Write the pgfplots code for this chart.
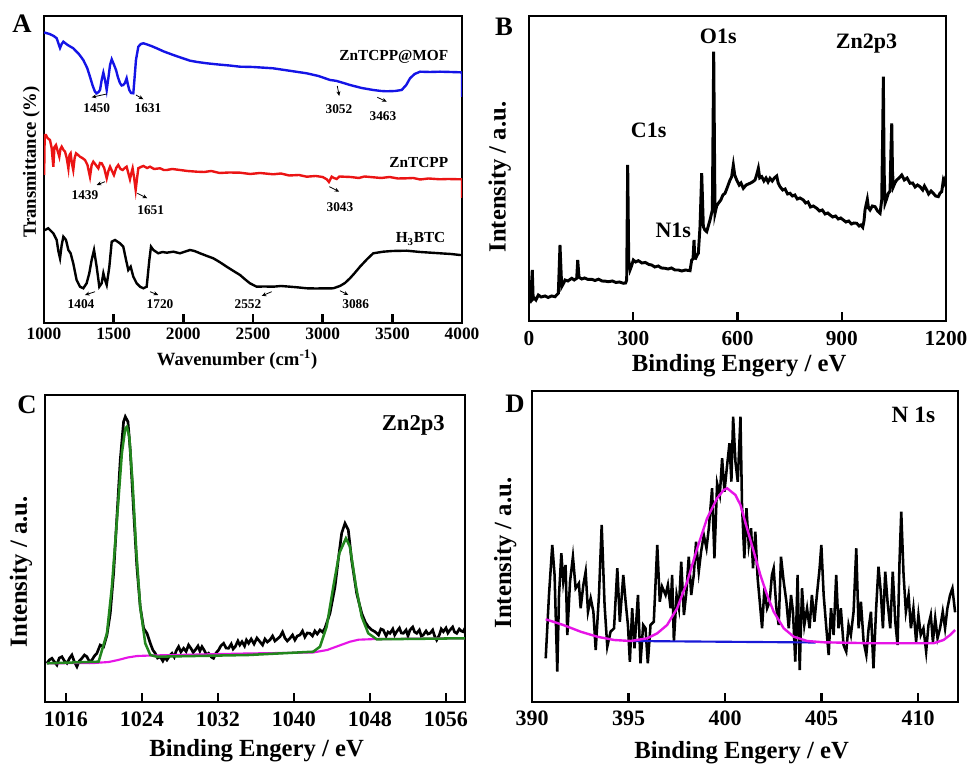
\documentclass[border=0pt]{standalone}
\usepackage{fontspec}
\setmainfont{Liberation Serif}
\usepackage{pgfplots}
\pgfplotsset{compat=1.18}
\usetikzlibrary{arrows.meta,calc}
\definecolor{ftblue}{RGB}{20,20,230}
\definecolor{ftred}{RGB}{235,20,20}
\definecolor{fitgreen}{RGB}{35,135,30}
\definecolor{fitmag}{RGB}{230,20,230}
\definecolor{basblue}{RGB}{25,25,215}
\newcommand{\fs}[1]{\fontsize{#1}{#1}\selectfont\bfseries}
\tikzset{ann/.style={-{Stealth[length=3.5pt,width=3pt]}, line width=0.6pt, black},
  tk/.style={black, line width=1.8pt}}
\pgfplotsset{
  panel/.style={scale only axis, anchor=south west, clip=true,
    axis line style={line width=2pt}, ytick=\empty,
    tick align=inside, xtick pos=left, major tick length=6pt,
    /pgf/number format/assume math mode=true, /pgf/number format/1000 sep={},
    ymin=0, enlargelimits=false},
}
\begin{document}
\begin{tikzpicture}[font=\bfseries]
\path[use as bounding box] (0,0) rectangle (729pt,575.25pt);

% ---------- A: FTIR ----------
\begin{axis}[panel, name=pA, at={(33pt,333pt)}, width=313.5pt, height=230.25pt,
  xmin=1000, xmax=4000, ymax=307, xtick={1000,1500,...,4000},
  tick label style={font=\fs{13}}, label style={font=\fs{14}},
  xlabel={Wavenumber (cm\textsuperscript{-1})}, ylabel={Transmittance (\%)},
  xlabel style={at={(axis description cs:0.462,-0.12)}, anchor=center},
  ylabel style={at={(axis description cs:-0.03,0.524)}, anchor=center}]
\addplot[ftblue, line width=1.8pt] coordinates {
(1000,290) (1007,290.3) (1040,289) (1070,287) (1091,284.7) (1105,279) (1115,275) (1127,279) (1139,281.3) (1170,278) (1210,274.7) (1250,269) (1282,263) (1310,255) (1330,246.3) (1350,237) (1366,231.3) (1378,229.7) (1392,231) (1402,233) (1414,243) (1426,250.3) (1438,243) (1450,233) (1462,245) (1474,258) (1486,263.7) (1500,259) (1517,253) (1530,246) (1545,240) (1557,237.5) (1569,238) (1581,240) (1593,244.7) (1603,238) (1612,233) (1625,230) (1641,229.7) (1650,245) (1660,263) (1677,276.3) (1695,279) (1713,279.7) (1740,278.5) (1770,277) (1809,274.7) (1860,271.5) (1928,268) (1990,265) (2048,262.3) (2100,261) (2168,259.7) (2250,258.5) (2330,257.5) (2407,256.3) (2500,256) (2644,254.7) (2750,252.5) (2885,249.7) (2970,247) (3053,243) (3080,242.5) (3101,242) (3150,240) (3196,238) (3280,235) (3363,233) (3420,232) (3460,231.7) (3520,232) (3567,233) (3600,238) (3627,244.7) (3660,249) (3699,251.3) (3770,251) (3842,251.3) (3920,251) (3986,250.7) (4000,250.5) (4000,226)};
\addplot[ftred, line width=1.8pt] coordinates {
(1001,148) (1005,188) (1014,188) (1025,185) (1043,183) (1055,175) (1067,156.3) (1075,176) (1086,178) (1098,172) (1110,166.3) (1118,174) (1127,176.3) (1140,173) (1151,171.3) (1163,165) (1175,154.7) (1183,168) (1191,169.7) (1200,160) (1210,153) (1220,165) (1230,169.7) (1245,168) (1258,166.3) (1275,165) (1294,163) (1312,158) (1330,146.3) (1342,158) (1354,161.3) (1372,158) (1390,154.7) (1402,160) (1414,159.7) (1432,155) (1450,144.7) (1462,152) (1474,156.3) (1488,152) (1502,148) (1518,155) (1533,158) (1549,154) (1565,153) (1580,155) (1593,156.3) (1605,150) (1617,143.7) (1627,150) (1636,154.7) (1647,145) (1658,133) (1668,145) (1677,154.7) (1695,156) (1713,157) (1740,155) (1761,156.3) (1790,154) (1833,154.7) (1860,153) (1881,153) (1920,154) (1976,153) (2030,152) (2096,151.3) (2150,151) (2200,152) (2260,150) (2330,150.5) (2407,150.3) (2480,149) (2550,150) (2646,148.7) (2700,149.5) (2760,147.5) (2830,148) (2885,146.3) (2950,147) (3000,146) (3029,143.7) (3045,141) (3065,146.3) (3080,145) (3101,144) (3120,146.5) (3148,146.3) (3200,146) (3260,145) (3300,146.5) (3363,145.7) (3420,145) (3480,146) (3540,144.5) (3603,144.7) (3650,145) (3700,143.5) (3760,144.5) (3842,143.7) (3900,144) (3986,143.7) (4000,143.7) (4000,125)};
\addplot[black, line width=1.8pt] coordinates {
(1000,93) (1007,93) (1031,94.7) (1050,92) (1067,89.7) (1091,83) (1103,72) (1115,64.7) (1127,78) (1139,86.3) (1158,83) (1175,73) (1191,69.7) (1210,59.7) (1234,43) (1258,36.3) (1282,34.7) (1306,39.7) (1325,49.7) (1342,63) (1359,73) (1378,56.3) (1397,36.3) (1414,39.7) (1426,49.7) (1438,43) (1450,38) (1469,56.3) (1486,81.3) (1510,83) (1545,79.7) (1569,76.3) (1589,63) (1605,53) (1622,56.3) (1641,46.3) (1665,39.7) (1689,36.3) (1713,34.7) (1737,36.3) (1756,63) (1768,76.3) (1785,73) (1820,69.7) (1850,71) (1881,70.3) (1928,71.3) (1976,69.7) (2048,73) (2080,72) (2120,69.7) (2170,67) (2215,64.7) (2260,61) (2311,56.3) (2360,52) (2407,48) (2440,44) (2478,39.7) (2526,36.3) (2580,36.5) (2646,36.3) (2700,37) (2766,36.3) (2830,35.5) (2885,34.7) (2950,34.5) (3000,34.6) (3076,34.7) (3124,37) (3160,40) (3196,44.7) (3230,50) (3268,56.3) (3320,64) (3363,69.7) (3435,71.3) (3500,72) (3603,72.3) (3700,71) (3842,69.7) (3920,69) (3986,68) (4000,68)};
\node[font=\fs{11.5}, anchor=east] at (axis cs:3935,266) {ZnTCPP@MOF};
\node[font=\fs{11.5}, anchor=east] at (axis cs:3935,160) {ZnTCPP};
\node[font=\fs{11.5}, anchor=east] at (axis cs:3914,84) {H\textsubscript{3}BTC};
\begin{scope}[font=\fs{10}]
\node at (axis cs:1378,214.7) {1450};
\node at (axis cs:1746,214.7) {1631};
\node at (axis cs:3117,214) {3052};
\node at (axis cs:3433,207) {3463};
\node at (axis cs:1294,128) {1439};
\node at (axis cs:1766,113) {1651};
\node at (axis cs:3124,116) {3043};
\node at (axis cs:1266,19) {1404};
\node at (axis cs:1833,19) {1720};
\node at (axis cs:2464,19) {2552};
\node at (axis cs:3237,19) {3086};
\end{scope}
\draw[ann] (axis cs:1450,229) -- (axis cs:1342,225.7);
\draw[ann] (axis cs:1660,228) -- (axis cs:1713,223.7);
\draw[ann] (axis cs:3105,237) -- (axis cs:3119,227);
\draw[ann] (axis cs:3392,225.7) -- (axis cs:3460,221.3);
\draw[ann] (axis cs:1438,141.3) -- (axis cs:1378,138);
\draw[ann] (axis cs:1670,129.7) -- (axis cs:1741,124.7);
\draw[ann] (axis cs:3048,136.3) -- (axis cs:3119,131.3);
\draw[ann] (axis cs:1366,31.3) -- (axis cs:1294,28);
\draw[ann] (axis cs:1761,31.3) -- (axis cs:1820,28);
\draw[ann] (axis cs:2634,31.3) -- (axis cs:2562,27);
\draw[ann] (axis cs:3124,32.3) -- (axis cs:3184,28);
\end{axis}

% ---------- B: XPS survey ----------
\begin{axis}[panel, name=pB, at={(396.75pt,334.5pt)}, width=312.75pt, height=228.75pt,
  xmin=0, xmax=1200, ymax=305, xtick={0,300,...,1200},
  tick label style={font=\fs{16}}, xticklabel style={yshift=-4pt}, label style={font=\fs{18.5}},
  xlabel={Binding Engery / eV}, ylabel={Intensity / a.u.},
  xlabel style={at={(axis description cs:0.504,-0.148)}, anchor=center},
  ylabel style={at={(axis description cs:-0.07,0.472)}, anchor=center}]
\addplot[black, line width=2.2pt] coordinates {
(2.9,17.7) (6,30) (9.5,51) (12,22) (15,23) (20,21) (26.8,26) (35,24) (46,25) (55,23.5) (65,25) (74.8,24.3) (84.4,27.7) (89.2,76) (94.1,34.3) (100,38) (103.6,41) (112,40) (122.9,42.7) (130,41) (137.3,42.7) (140.2,61) (143.9,43.7) (152,42) (160,43) (170,41.5) (180.4,41.7) (190,40.5) (200,41.8) (210,40) (220,39.8) (228.3,39.3) (240,40) (250,38.5) (260,39) (271.4,37.7) (278,38) (281.1,41) (284,156) (287,60) (290.7,51) (295,55) (300.3,61) (307,59) (314.6,60.3) (325,58) (335,58.5) (345,56.5) (353,56) (362,54) (372,55) (381,53) (391.4,52.7) (400,52) (410,53) (420,51) (429.8,51) (440,50) (450,51) (463.4,50.3) (468.2,61) (472,62) (474.9,81) (477,63) (479.7,62.7) (484,66) (487.3,67.7) (492.1,94.3) (497,147.7) (501.7,94.3) (506,91) (511.4,89.3) (516,95) (520.9,101) (527.6,111) (531.5,269.3) (535.3,107.7) (540,115) (544.8,117.7) (552,121) (558,126) (564.1,127.7) (570,133) (578.5,141) (583,144) (588,156) (592,146) (597.7,141) (605,136) (610,138) (616.8,132.7) (625,136) (636,137.7) (643,139) (650.4,141) (655,146) (660,152.7) (664,143) (669.7,144.3) (676,140) (682,143) (688,139) (693.6,142.7) (700,140) (706,143) (712.9,145) (717,138) (722.4,134.3) (730,131) (737,132) (744,127) (751.2,127.7) (758,125) (765,126) (772,122) (780,123) (789.5,121) (796,118) (803,119) (810,114) (818,115) (828,112.7) (836,110) (844,111) (852,107) (860,108) (866.3,106) (874,104) (882,105) (890,102) (897,103) (904.6,101) (912,99) (920,100) (928,97) (935,98) (943.1,97.7) (950,95) (955,96) (960.4,93.7) (964,100) (967,111) (970,116) (973.6,121.7) (977,113) (981.4,111) (988,115) (995.8,114.3) (1003,110) (1010.2,107.7) (1015,121) (1017.5,180) (1019.7,244.3) (1022,150) (1024.6,117.7) (1029,122) (1034,127.7) (1039,130) (1041.5,170) (1043.9,197.7) (1046,150) (1048.5,134.3) (1053,138) (1058.2,141) (1065,143) (1072.6,146) (1080,141) (1088,143) (1096.5,137.7) (1104,138) (1111,134) (1118,136) (1125.3,134.3) (1133,131) (1138,135) (1144.6,131) (1150,127) (1157,130) (1163.6,127.7) (1170,125) (1178,124.3) (1183,128) (1187.7,129.3) (1192.4,141) (1196,138) (1200,145)};
\begin{scope}[font=\fs{16.5}]
\node at (axis cs:544.8,284.3) {O1s};
\node at (axis cs:971.1,277.7) {Zn2p3};
\node at (axis cs:344.3,191) {C1s};
\node at (axis cs:415.3,91) {N1s};
\end{scope}
\end{axis}

% ---------- C: Zn 2p ----------
\begin{axis}[panel, name=pC, at={(33.75pt,48.75pt)}, width=315pt, height=230.25pt,
  xmin=1013.8, xmax=1058, ymax=307, xtick={1016,1024,...,1056},
  tick label style={font=\fs{16.5}}, xticklabel style={yshift=-4pt}, label style={font=\fs{18.5}},
  xlabel={Binding Engery / eV}, ylabel={Intensity / a.u.},
  xlabel style={at={(axis description cs:0.504,-0.16)}, anchor=center},
  ylabel style={at={(axis description cs:-0.057,0.424)}, anchor=center}]
\addplot[black, line width=2pt] coordinates {
(1014.0,38.7) (1014.25,42) (1014.53,43.7) (1014.8,40) (1015.05,37) (1015.3,44) (1015.58,45.3) (1015.85,41) (1016.11,38.7) (1016.4,44) (1016.63,47) (1016.9,40) (1017.16,35.3) (1017.4,41) (1017.68,43.7) (1017.95,47) (1018.21,45.3) (1018.5,40) (1018.74,42) (1019.0,46) (1019.26,48.7) (1019.61,57) (1019.97,55.3) (1020.32,67) (1020.67,88.7) (1021.02,128.7) (1021.37,185.3) (1021.72,242) (1022.07,280.3) (1022.25,285.3) (1022.53,280.3) (1022.77,252) (1023.12,192) (1023.47,135.3) (1023.82,95.3) (1024.18,73.7) (1024.53,68.7) (1024.88,58.7) (1025.15,52) (1025.40,48.7) (1025.65,44) (1025.93,45.3) (1026.2,41) (1026.4,44.5) (1026.63,42) (1026.9,46) (1027.16,48.7) (1027.4,45) (1027.6,51) (1027.86,55.3) (1028.1,50) (1028.39,53.7) (1028.65,50.5) (1028.91,57) (1029.2,53) (1029.4,49.5) (1029.61,52) (1029.9,56) (1030.1,51) (1030.32,55.3) (1030.6,51) (1030.8,47) (1031.02,48.7) (1031.3,45) (1031.54,43.7) (1031.8,49) (1032.07,52) (1032.3,56) (1032.60,58.7) (1032.85,54) (1033.12,53.7) (1033.4,58) (1033.6,53) (1033.82,55.3) (1034.1,61) (1034.3,57) (1034.53,60.3) (1034.8,56) (1035.0,62) (1035.23,58.7) (1035.5,63) (1035.8,58) (1036.1,64) (1036.42,60.3) (1036.7,57) (1036.95,63) (1037.2,60) (1037.47,62) (1037.75,66) (1038.0,61) (1038.25,63) (1038.53,65.3) (1038.8,70) (1039.05,64) (1039.3,61) (1039.58,63.7) (1039.85,67) (1040.1,62) (1040.35,66) (1040.63,67) (1040.9,71) (1041.15,65) (1041.4,69) (1041.68,68.7) (1041.95,66) (1042.2,71) (1042.45,68) (1042.74,72) (1043.0,70) (1043.26,73.7) (1043.79,88.7) (1044.32,115.3) (1044.66,142) (1045.02,168.7) (1045.37,178.7) (1045.72,172) (1046.07,142) (1046.60,108.7) (1047.13,88.7) (1047.5,80) (1047.82,75.3) (1048.2,72) (1048.53,70.3) (1048.9,67) (1049.15,73) (1049.40,72) (1049.7,66) (1049.9,70) (1050.11,68.7) (1050.4,73) (1050.6,67) (1050.81,70.3) (1051.1,74) (1051.3,69) (1051.51,68.7) (1051.8,72) (1052.0,66) (1052.21,72) (1052.5,75) (1052.7,70) (1052.92,68.7) (1053.2,72) (1053.4,66) (1053.61,67) (1053.9,71) (1054.1,68) (1054.32,68.7) (1054.6,72) (1054.8,66) (1055.02,62) (1055.3,67) (1055.5,73) (1055.72,70.3) (1056.0,74) (1056.2,69) (1056.42,72) (1056.7,75) (1056.9,70) (1057.13,68.7) (1057.4,73) (1057.6,71) (1057.82,70.3) (1058,74)};
\addplot[fitmag, line width=1.6pt] coordinates {
(1014,38.7) (1019,39) (1020.5,40) (1021.5,42) (1022.5,44.5) (1023.5,46) (1025,46.5) (1035,48.5) (1042,49.5) (1043.5,52) (1044.5,55.5) (1045.9,60.3) (1046.8,62.3) (1048.4,62.9) (1057.8,63.7) (1058,63.7)};
\addplot[fitgreen, line width=1.9pt] coordinates {
(1014,38.7) (1019.44,40.3) (1020.32,68.7) (1020.84,115.3) (1021.37,182) (1021.89,248.7) (1022.25,273.7) (1022.42,275.3) (1022.67,265.3) (1023.02,218.7) (1023.40,152) (1023.82,95.3) (1024.35,58.7) (1024.88,47) (1025.58,45.3) (1035.23,47) (1042.03,50.3) (1042.74,55.3) (1043.44,75.3) (1044.14,115.3) (1044.77,148.7) (1045.47,163.7) (1045.89,155.3) (1046.53,115.3) (1047.13,85.3) (1047.82,68.7) (1048.71,62.7) (1057.82,63.7) (1058,63.7)};
\node[font=\fs{17}] at (axis cs:1052.56,277) {Zn2p3};
\end{axis}

% ---------- D: N 1s ----------
\begin{axis}[panel, name=pD, at={(399pt,48.75pt)}, width=319.5pt, height=233.25pt,
  xmin=390, xmax=412.07, ymax=311, xtick={390,395,...,410},
  tick label style={font=\fs{16.5}}, xticklabel style={yshift=-3pt}, label style={font=\fs{18.5}},
  xlabel={Binding Engery / eV}, ylabel={Intensity / a.u.},
  xlabel style={at={(axis description cs:0.492,-0.162)}, anchor=center},
  ylabel style={at={(axis description cs:-0.063,0.479)}, anchor=center}]
\addplot[black, line width=1.9pt] coordinates {
(390.71,43.7) (390.88,107) (391.05,157) (391.17,127) (391.31,30.3) (391.40,107) (391.52,148.7) (391.62,120.3) (391.74,137) (391.83,67) (391.97,120.3) (392.12,145.3) (392.26,113.7) (392.43,118.7) (392.52,93.7) (392.66,117) (392.78,130.3) (392.90,90.3) (393.04,103.7) (393.18,90.3) (393.30,52) (393.47,107) (393.61,177) (393.76,97) (393.90,55.3) (394.07,70.3) (394.25,73.7) (394.42,133.7) (394.55,80.3) (394.73,127) (394.85,100.3) (394.97,77) (395.07,40.3) (395.19,93.7) (395.31,53.7) (395.49,107) (395.62,38.7) (395.76,77) (395.88,73.7) (396.00,38.7) (396.14,77) (396.31,80.3) (396.49,157) (396.62,100.3) (396.74,115.3) (396.92,107) (397.04,117) (397.18,93.7) (397.26,127) (397.35,60.3) (397.49,107) (397.61,93.7) (397.73,140.3) (397.87,87) (398.00,110.3) (398.12,145.3) (398.25,107) (398.38,127) (398.50,160.3) (398.64,130.3) (398.76,150.3) (398.90,167) (399.04,153.7) (399.16,173.7) (399.33,213.7) (399.45,143.7) (399.59,218.7) (399.73,207) (399.85,243.7) (399.97,210.3) (400.11,237) (400.23,258.7) (400.33,220.3) (400.42,285.3) (400.54,240.3) (400.66,220.3) (400.80,285.3) (400.88,197) (401.00,143.7) (401.11,193.7) (401.23,157) (401.35,173.7) (401.45,133.7) (401.57,170.3) (401.69,123.7) (401.80,100.3) (401.92,73.7) (402.04,113.7) (402.18,93.7) (402.31,100.3) (402.43,127) (402.52,133.7) (402.66,93.7) (402.78,77) (402.90,145.3) (403.04,120.3) (403.18,100.3) (403.30,73.7) (403.42,107) (403.52,90.3) (403.64,40.3) (403.76,127) (403.87,32) (403.99,113.7) (404.11,77) (404.25,93.7) (404.38,73.7) (404.50,107) (404.63,80.3) (404.76,107) (404.90,133.7) (404.99,157) (405.11,107) (405.25,73.7) (405.37,47) (405.49,93.7) (405.625,67) (405.76,127) (405.88,73.7) (406.00,93.7) (406.14,57) (406.28,50.3) (406.40,77) (406.52,67) (406.66,90.3) (406.80,153.7) (406.92,73.7) (407.04,100.3) (407.18,60.3) (407.32,47) (407.44,73.7) (407.56,90.3) (407.69,33.7) (407.83,93.7) (407.95,135.3) (408.07,110.3) (408.18,73.7) (408.30,130.3) (408.42,100.3) (408.56,73.7) (408.69,130.3) (408.82,80.3) (408.94,57) (409.04,140.3) (409.13,190.3) (409.25,127) (409.37,90.3) (409.51,107) (409.63,73.7) (409.76,93.7) (409.90,60.3) (410.02,87) (410.14,67) (410.28,73.7) (410.42,50.3) (410.54,77) (410.66,87) (410.77,60.3) (410.89,83.7) (411.01,63.7) (411.14,73.7) (411.28,90.3) (411.40,73.7) (411.52,93.7) (411.66,107) (411.78,113.7) (411.92,89.7)};
\addplot[basblue, line width=1.6pt] coordinates {(395.1,61) (404.7,59.5)};
\addplot[fitmag, line width=1.8pt] coordinates {
(390.71,82.7) (391.62,77) (392.52,70.3) (393.38,65.3) (394.25,62) (395.11,61) (395.97,63.7) (396.49,68.7) (397.00,77) (397.52,93.7) (398.04,120.3) (398.56,153.7) (399.07,183.7) (399.59,203.7) (399.93,212) (400.11,213.7) (400.54,207) (400.80,197) (401.14,173.7) (401.49,150.3) (401.83,127) (402.18,107) (402.52,90.3) (403.04,73.7) (403.56,65.3) (404.25,61) (405.11,59.7) (407.69,58.7) (410.80,58.7) (411.32,62) (411.66,67) (411.92,72)};
\node[font=\fs{17.5}] at (axis cs:409.76,287) {N 1s};
\end{axis}

% inward tick marks on the lower axes
\foreach \f in {0.16667,0.33333,0.5,0.66667,0.83333}
  \draw[tk] ($(pA.south west)!\f!(pA.south east)$) -- ++(0,7pt);
\foreach \f in {0.25,0.5,0.75}
  \draw[tk] ($(pB.south west)!\f!(pB.south east)$) -- ++(0,7pt);
\foreach \f in {0.04977,0.23077,0.41176,0.59276,0.77376,0.95475}
  \draw[tk] ($(pC.south west)!\f!(pC.south east)$) -- ++(0,7pt);
\foreach \f in {0.22655,0.45310,0.67966,0.90621}
  \draw[tk] ($(pD.south west)!\f!(pD.south east)$) -- ++(0,7pt);

\node[font=\fs{20}] at (16.5pt,557.25pt) {A};
\node[font=\fs{20}] at (378pt,555pt) {B};
\node[font=\fs{20}] at (20.25pt,271.5pt) {C};
\node[font=\fs{20}] at (386.25pt,272.25pt) {D};
\end{tikzpicture}
\end{document}
